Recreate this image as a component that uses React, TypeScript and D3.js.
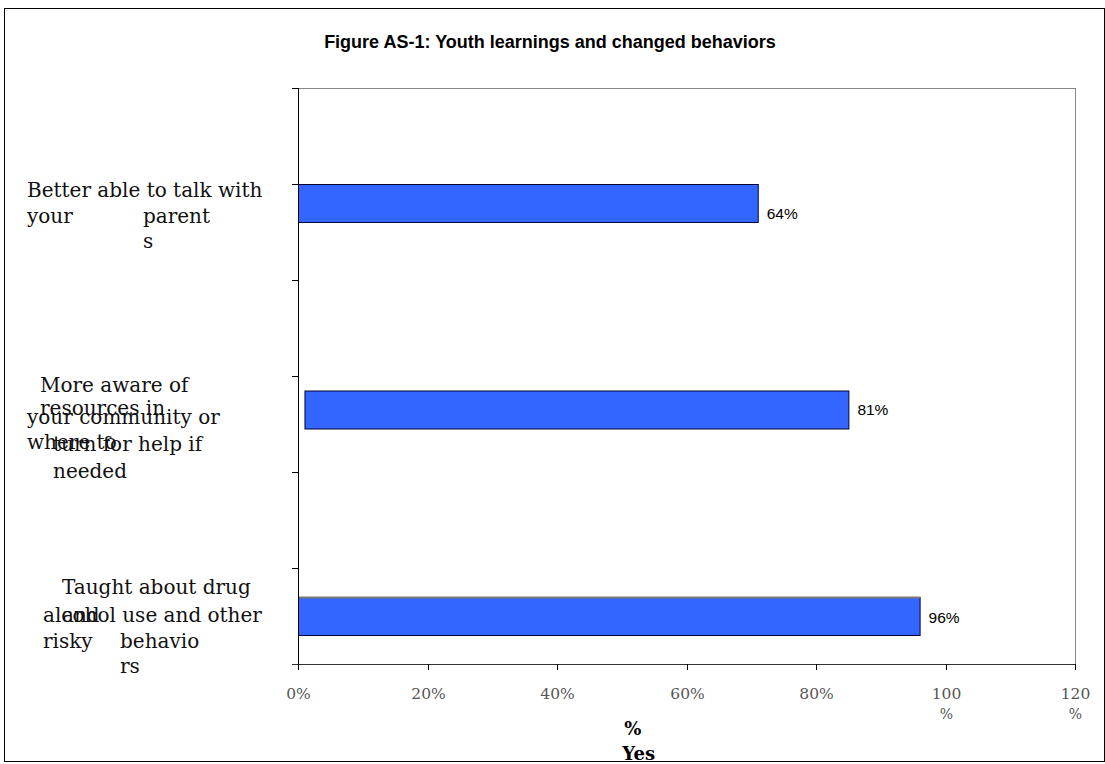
import React from "react";
import * as d3 from "d3";

const title = "Figure AS-1: Youth learnings and changed behaviors";
const categories = [
  "Better able to talk with your parents",
  "More aware of resources in your community or where to turn for help if needed",
  "Taught about drug and alcohol use and other risky behaviors",
];
// bar extents as drawn in the picture (fractions)
const barStarts = [0, 0.01, 0];
const barEnds = [0.71, 0.85, 0.96];
const valueLabels = ["64%", "81%", "96%"];
const xTicks = [0, 0.2, 0.4, 0.6, 0.8, 1.0, 1.2];
const xTickLabels = [["0%"], ["20%"], ["40%"], ["60%"], ["80%"], ["100", "%"], ["120", "%"]];
const axisTitle = ["%", "Yes"];

// label line fragments: [text, dx, dy] relative to band center
const labelLines: [string, number, number][][] = [
  [["Better able to talk with", 27, 13], ["your", 27, 39], ["parent", 143, 39], ["s", 143, 64]],
  [["More aware of", 40, 16], ["resources in", 40, 39], ["your community or", 27, 48], ["where to", 27, 73], ["turn for help if", 53, 75], ["needed", 53, 102]],
  [["Taught about drug", 62, 26], ["alcohol use and other", 43, 54], ["and", 62, 54], ["risky", 43, 80], ["behavio", 120, 80], ["rs", 120, 105]],
];
const valueLabelDy = [10, 0, 1];

const W = 1105, H = 764;
const plot = { left: 298, right: 1075, top: 88, bottom: 664 };

export default function App() {
  const x = d3.scaleLinear().domain([0, 1.2]).range([plot.left, plot.right]);
  const yBand = d3.scaleBand<number>().domain(d3.range(categories.length)).range([plot.top, plot.bottom]);
  const yBar = d3.scaleLinear().domain([0, categories.length - 1]).range([203, 616]);
  const barH = 38;
  const yTickPos = d3.range(categories.length * 2 + 1).map((i) => plot.top + (i * yBand.bandwidth()) / 2);
  const serif = "'DejaVu Serif', serif";
  const sans = "'Liberation Sans', Arial, sans-serif";

  return (
    <svg width={W} height={H} style={{ position: "absolute", left: 0, top: 0, background: "#fff" }}>
      <rect x={4.5} y={8.5} width={1100} height={753} fill="#fff" stroke="#000" strokeWidth={1} />
      <text x={550} y={48} textAnchor="middle" fontFamily={sans} fontWeight="bold" fontSize={18} fill="#000">
        {title}
      </text>
      {/* plot border */}
      <line x1={plot.left} x2={plot.right} y1={plot.top + 0.5} y2={plot.top + 0.5} stroke="#888" />
      <line x1={plot.right + 0.5} x2={plot.right + 0.5} y1={plot.top} y2={plot.bottom} stroke="#888" />
      {/* bars */}
      {categories.map((c, i) => {
        const yc = yBar(i);
        const x0 = x(barStarts[i]);
        const x1 = x(barEnds[i]);
        return (
          <g key={c}>
            <rect x={x0 + 0.5} y={yc - barH / 2 + 0.5} width={x1 - x0} height={barH} fill="#3366ff" stroke="#000033" strokeWidth={1} />
            {i === 2 && <line x1={x0} x2={x1 + 1} y1={yc - barH / 2 + 0.5} y2={yc - barH / 2 + 0.5} stroke="#777" strokeWidth={2} />}
            <text x={x1 + 9} y={yc + 5.5 + valueLabelDy[i]} fontFamily={sans} fontSize={15.5} fill="#000">
              {valueLabels[i]}
            </text>
          </g>
        );
      })}
      {/* y axis */}
      <line x1={plot.left + 0.5} x2={plot.left + 0.5} y1={plot.top} y2={plot.bottom} stroke="#000" />
      {yTickPos.map((t, i) => (
        <line key={i} x1={plot.left - 6} x2={plot.left} y1={Math.round(t) + 0.5} y2={Math.round(t) + 0.5} stroke="#000" />
      ))}
      {/* x axis */}
      <line x1={plot.left - 6} x2={plot.right + 1} y1={plot.bottom + 0.5} y2={plot.bottom + 0.5} stroke="#333" />
      {xTicks.map((t, i) => (
        <g key={t} transform={`translate(${Math.round(x(t)) + 0.5},${plot.bottom})`}>
          <line y1={0} y2={6} stroke="#000" />
          {xTickLabels[i].map((s, j) => (
            <text key={j} y={35 + j * 20} textAnchor="middle" fontFamily={serif} fontSize={j === 0 ? 15.5 : 14} fill="#555">
              {s}
            </text>
          ))}
        </g>
      ))}
      {axisTitle.map((s, j) => (
        <text key={j} x={x(0.52) - 2 + j * 6} y={735 + j * 25} textAnchor="middle" fontFamily={serif} fontWeight="bold" fontSize={18} fill="#000">
          {s}
        </text>
      ))}
      {/* category labels */}
      {labelLines.map((lines, i) =>
        lines.map(([s, dx, dy], j) => (
          <text key={`${i}-${j}`} x={dx} y={(yBand(i) as number) + yBand.bandwidth() / 2 + dy} fontFamily={serif} fontSize={20} fill="#111">
            {s}
          </text>
        ))
      )}
    </svg>
  );
}
